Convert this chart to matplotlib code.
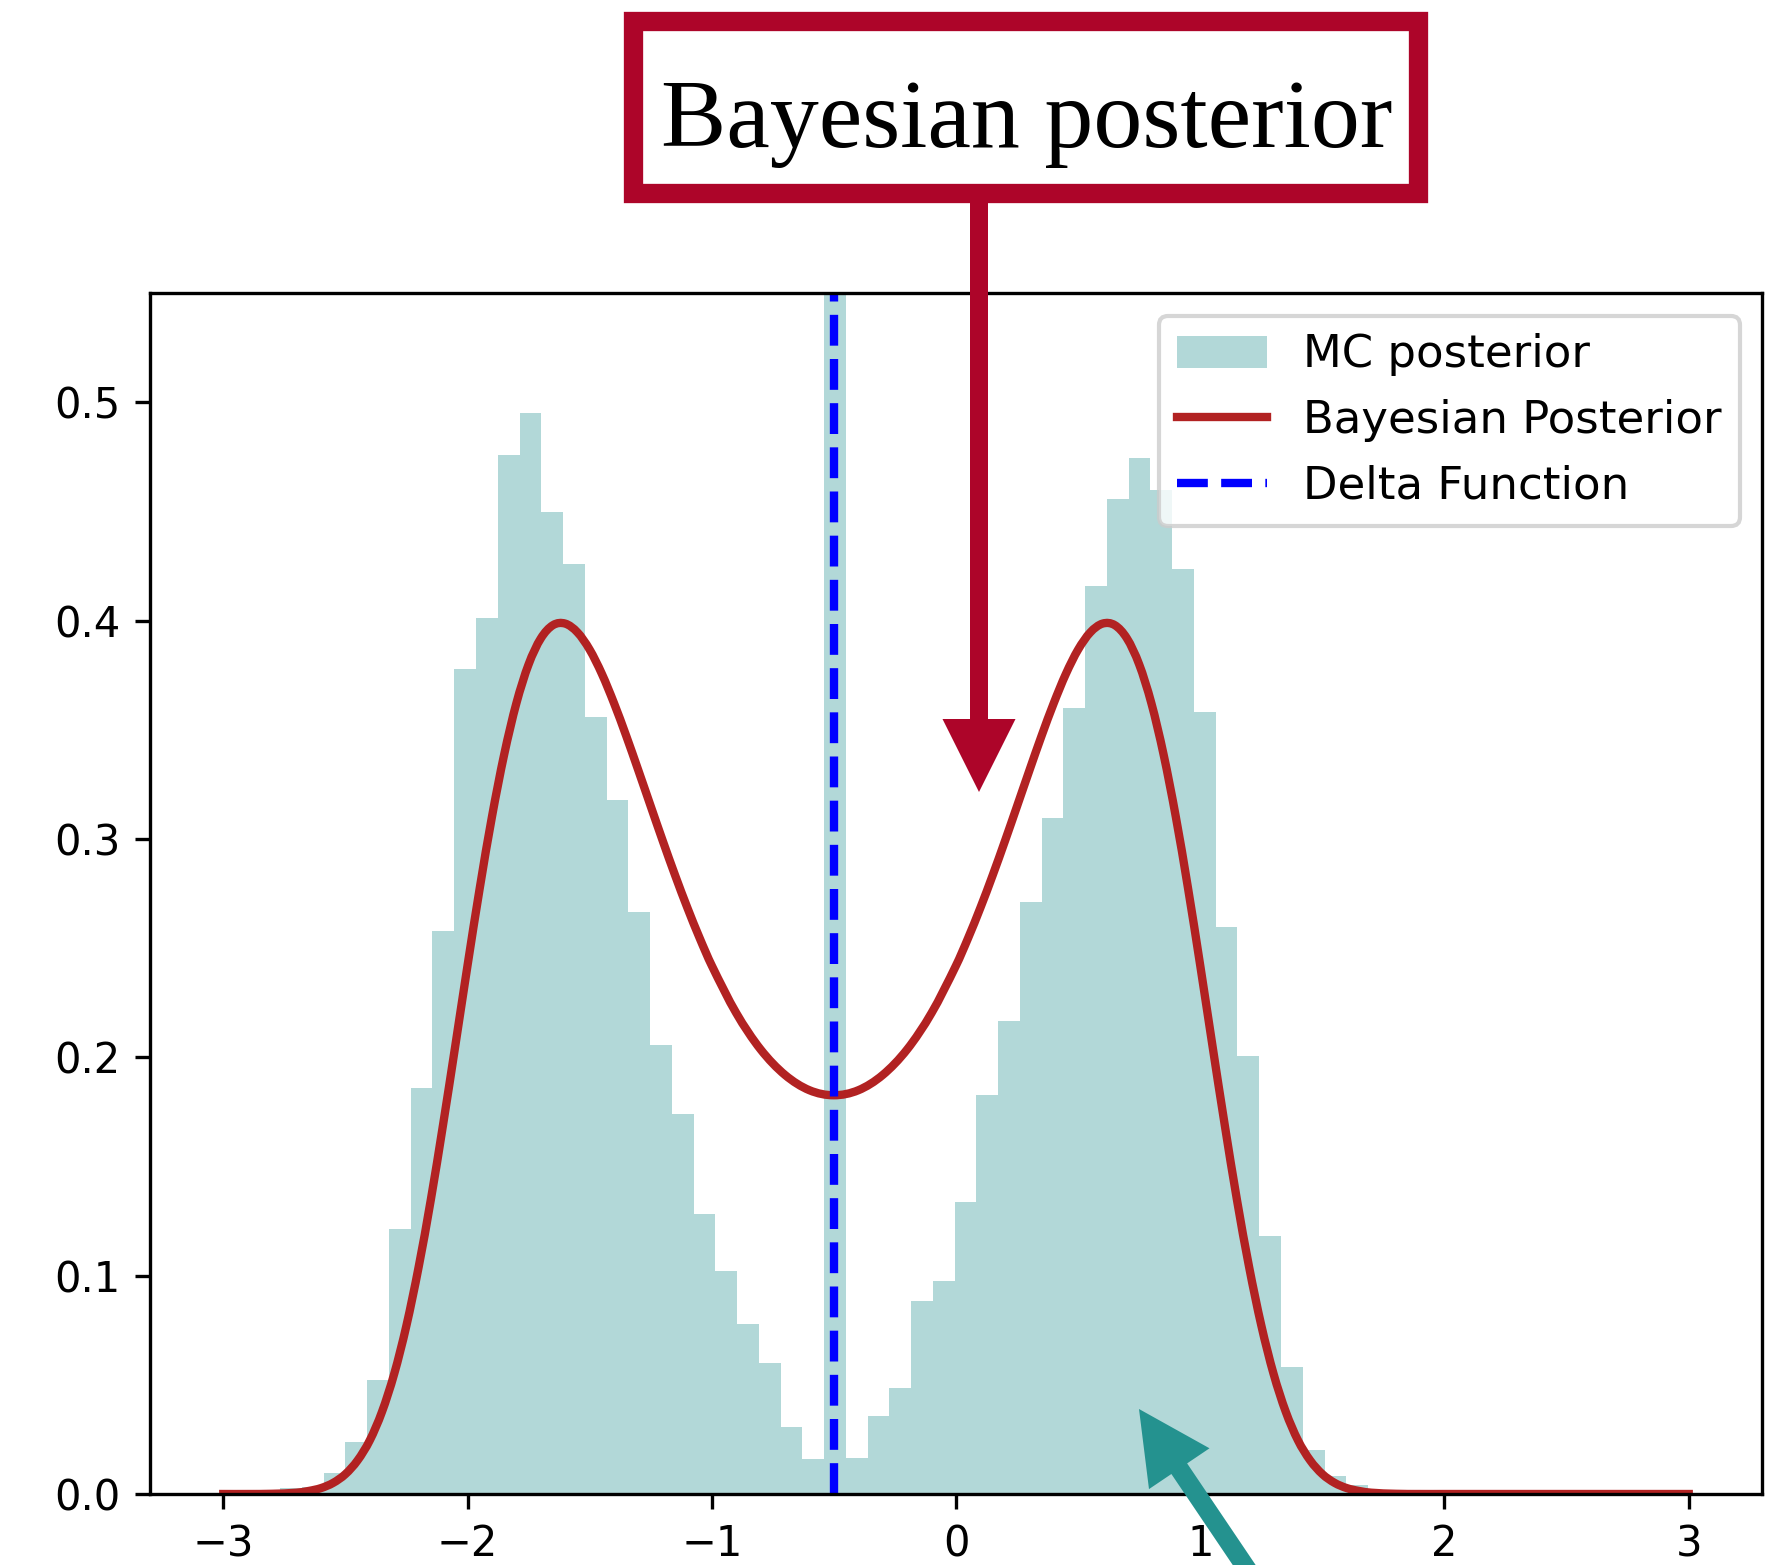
import numpy as np
import matplotlib
matplotlib.use("Agg")
import matplotlib.pyplot as plt
from matplotlib.patches import Rectangle, FancyArrow, PathPatch
from matplotlib.path import Path
from matplotlib.lines import Line2D

# Monte Carlo posterior histogram (density per bin, 50 equal bins)
bin_lo = -2.767
bin_hi = 1.687
n_bins = 50
mc_density = [
    0.0026, 0.0032, 0.0096, 0.0240, 0.0520, 0.1215, 0.1860, 0.2580, 0.3780, 0.4010,
    0.4760, 0.4950, 0.4495, 0.4257, 0.3560, 0.3180, 0.2666, 0.2055, 0.1738, 0.1284,
    0.1023, 0.0780, 0.0601, 0.0307, 0.0160, 1.1900, 0.0165, 0.0355, 0.0486, 0.0885,
    0.0977, 0.1335, 0.1826, 0.2165, 0.2710, 0.3096, 0.3600, 0.4156, 0.4555, 0.4743,
    0.4600, 0.4234, 0.3580, 0.2596, 0.2004, 0.1180, 0.0580, 0.0200, 0.0083, 0.0041,
]

# Bayesian posterior density curve
post_x = [
    -3.0, -2.9, -2.8, -2.7, -2.65, -2.6, -2.55, -2.5, -2.45, -2.4, -2.35, -2.3,
    -2.25, -2.2, -2.15, -2.1, -2.05, -2.0, -1.95, -1.9, -1.85, -1.8, -1.75, -1.7,
    -1.65, -1.6, -1.55, -1.5, -1.45, -1.4, -1.35, -1.3, -1.25, -1.2, -1.15,
    -1.1, -1.05, -1.0, -0.9, -0.8, -0.7, -0.6, -0.5, -0.4, -0.3, -0.2, -0.1,
    0.0, 0.05, 0.1, 0.15, 0.2, 0.25, 0.3, 0.35, 0.4, 0.45, 0.5, 0.55, 0.6,
    0.65, 0.7, 0.75, 0.8, 0.85, 0.9, 0.95, 1.0, 1.05, 1.1, 1.15, 1.2, 1.25, 1.3,
    1.35, 1.4, 1.45, 1.5, 1.55, 1.6, 1.65, 1.7, 1.8, 1.9, 2.0, 2.5, 3.0,
]
post_y = [
    0.0000, 0.0000, 0.0001, 0.0006, 0.0014, 0.0027, 0.0051, 0.0091, 0.0154, 0.0246, 0.0377, 0.0551,
    0.0772, 0.1040, 0.1349, 0.1692, 0.2053, 0.2420, 0.2774, 0.3101, 0.3386, 0.3621, 0.3799, 0.3918,
    0.3979, 0.3986, 0.3946, 0.3867, 0.3756, 0.3621, 0.3471, 0.3312, 0.3150, 0.2989, 0.2833,
    0.2685, 0.2547, 0.2420, 0.2203, 0.2036, 0.1919, 0.1849, 0.1826, 0.1849, 0.1919, 0.2036, 0.2203,
    0.2420, 0.2547, 0.2685, 0.2833, 0.2989, 0.3150, 0.3312, 0.3471, 0.3621, 0.3756, 0.3867, 0.3946, 0.3986,
    0.3979, 0.3918, 0.3799, 0.3621, 0.3386, 0.3101, 0.2774, 0.2420, 0.2053, 0.1692, 0.1349, 0.1040, 0.0772, 0.0551,
    0.0377, 0.0246, 0.0154, 0.0091, 0.0051, 0.0027, 0.0014, 0.0006, 0.0001, 0.0000, 0.0000, 0.0000, 0.0000,
]

delta_x = -0.5
box_title = "Bayesian posterior"


def smooth_path(xs, ys):
    """Cubic Hermite (Bezier) path passing through every tabulated point."""
    xs = np.asarray(xs, float)
    ys = np.asarray(ys, float)
    n = len(xs)
    m = np.empty(n)
    m[0] = (ys[1] - ys[0]) / (xs[1] - xs[0])
    m[-1] = (ys[-1] - ys[-2]) / (xs[-1] - xs[-2])
    m[1:-1] = (ys[2:] - ys[:-2]) / (xs[2:] - xs[:-2])
    verts = [(xs[0], ys[0])]
    codes = [Path.MOVETO]
    for i in range(n - 1):
        h = xs[i + 1] - xs[i]
        verts += [(xs[i] + h / 3, ys[i] + m[i] * h / 3),
                  (xs[i + 1] - h / 3, ys[i + 1] - m[i + 1] * h / 3),
                  (xs[i + 1], ys[i + 1])]
        codes += [Path.CURVE4] * 3
    return Path(verts, codes)


W, H, DPI = 1768, 1565, 300
fig = plt.figure(figsize=(W / DPI, H / DPI), dpi=DPI)

ax = fig.add_axes([150 / W, 1 - 1494 / H, (1762 - 150) / W, (1494 - 293) / H])

edges = np.linspace(bin_lo, bin_hi, n_bins + 1)
centers = 0.5 * (edges[:-1] + edges[1:])
_, _, bars = ax.hist(centers, bins=edges, weights=mc_density, color="teal", alpha=0.3,
                     label="MC posterior")

curve_color = "firebrick"
ax.add_patch(PathPatch(smooth_path(post_x, post_y), fill=False, edgecolor=curve_color,
                       lw=2, capstyle="projecting", joinstyle="round"))
curve_handle = Line2D([], [], color=curve_color, lw=2, label="Bayesian Posterior")

delta_line = ax.axvline(delta_x, color="blue", linestyle="--", lw=2, label="Delta Function")

ax.set_xlim(-3.3, 3.3)
ax.set_ylim(0, 0.55)
ax.set_xticks([-3, -2, -1, 0, 1, 2, 3])
ax.set_yticks([0.0, 0.1, 0.2, 0.3, 0.4, 0.5])
ax.legend(handles=[bars[0], curve_handle, delta_line],
          labels=["MC posterior", "Bayesian Posterior", "Delta Function"],
          loc="upper right", fontsize=10.8)

# Annotation layer in pixel coordinates
ov = fig.add_axes([0, 0, 1, 1])
ov.set_xlim(0, W)
ov.set_ylim(H, 0)
ov.axis("off")

red = "#ad0529"
bw = 19.3
box = Rectangle((623 + bw / 2, 11.7 + bw / 2), 1428 - 623 - bw, 202.7 - 11.7 - bw,
                facecolor="white", edgecolor=red, lw=bw * 72 / DPI, joinstyle="miter")
ov.add_patch(box)
ov.text(1027, 146.7, box_title, ha="center", va="baseline",
        fontsize=23.5, family="Liberation Serif", color="black")

ov.add_patch(FancyArrow(979, 202, 0, 590, width=18, head_width=73, head_length=73,
                        length_includes_head=True, color=red, lw=0))

teal = "#24928f"
tail_x, tail_y = 1306.7, 1657.7
ov.add_patch(FancyArrow(tail_x, tail_y, 1139 - tail_x, 1409 - tail_y, width=19,
                        head_width=73, head_length=72, length_includes_head=True,
                        color=teal, lw=0))

fig.savefig("out.png", dpi=DPI)
